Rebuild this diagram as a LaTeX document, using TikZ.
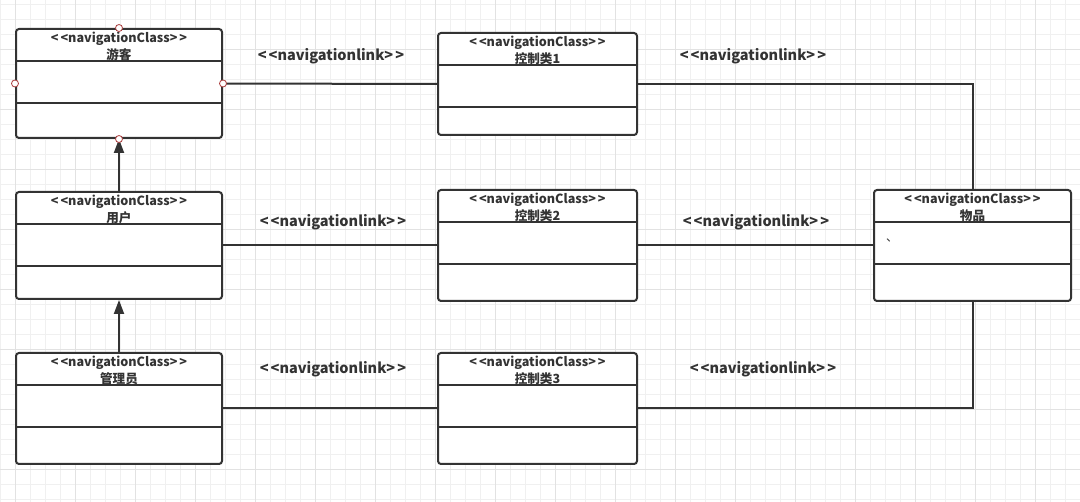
\documentclass[tikz,border=0pt]{standalone}
\usepackage{fontspec}
\setmainfont{Noto Sans CJK SC}[Ligatures=ResetAll]
\usetikzlibrary{arrows.meta, positioning}
\definecolor{umlgray}{RGB}{51, 51, 51}
\definecolor{gridminor}{RGB}{240, 240, 240}
\definecolor{gridmajor}{RGB}{226, 226, 226}
\definecolor{handlered}{RGB}{170, 60, 60}
\newcommand{\stereo}[1]{<\kern2pt<#1>\kern2pt>}

\begin{document}
\begin{tikzpicture}[x=1pt, y=-1pt,
  cls/.style={draw=umlgray, line width=2pt, rounded corners=3pt, fill=white, minimum width=206pt, minimum height=109pt, inner sep=0pt},
  ctrl/.style={cls, minimum width=199pt, minimum height=111pt},
  title/.style={align=center, font=\bfseries\fontsize{12.6}{16.5}\selectfont, text=umlgray, inner sep=1pt},
  linklabel/.style={font=\bfseries\fontsize{14.5}{16}\selectfont, text=umlgray, inner sep=1pt},
  divider/.style={draw=umlgray, line width=2pt},
  link/.style={draw=umlgray, line width=2pt},
  handle/.style={draw=handlered, fill=white, line width=0.8pt}
]
  % background grid
  \useasboundingbox (0,0) rectangle (1080,502);
  \fill[white] (0,0) rectangle (1080,502);
  \foreach \x in {0,15,...,1080} \draw[gridminor, line width=1pt] (\x,0) -- (\x,502);
  \foreach \y in {5,20,...,500} \draw[gridminor, line width=1pt] (0,\y) -- (1080,\y);
  \foreach \x in {15,75,...,1035} \draw[gridmajor, line width=1pt] (\x,0) -- (\x,502);
  \foreach \y in {50,110,...,470} \draw[gridmajor, line width=1pt] (0,\y) -- (1080,\y);

  % classes
  \node[cls] (guest) at (119, 83.5) {};
  \node[cls, minimum height=107pt] (user) at (119, 245.5) {};
  \node[cls, minimum height=111pt] (admin) at (119, 408.5) {};
  \node[ctrl, minimum height=102pt] (ctrlA) at (537.5, 84) {};
  \node[ctrl] (ctrlB) at (537.5, 245.5) {};
  \node[ctrl] (ctrlC) at (537.5, 408.5) {};
  \node[ctrl, minimum width=197pt] (item) at (972.5, 245.5) {};

  \foreach \c in {guest, user, admin, ctrlA, ctrlB, ctrlC, item} {
    \draw[divider] ([yshift=-33pt]\c.north west) -- ([yshift=-33pt]\c.north east);
    \draw[divider] ([yshift=-75pt]\c.north west) -- ([yshift=-75pt]\c.north east);
  }

  \node[title, below=3pt of guest.north] (guestname) {\stereo{navigationClass}\\游客};
  \node[title, below=3pt of user.north] (username) {\stereo{navigationClass}\\用户};
  \node[title, below=3pt of admin.north] (adminname) {\stereo{navigationClass}\\管理员};
  \node[title, below=3pt of ctrlA.north] (ctrlAname) {\stereo{navigationClass}\\控制类1};
  \node[title, below=3pt of ctrlB.north] (ctrlBname) {\stereo{navigationClass}\\控制类2};
  \node[title, below=3pt of ctrlC.north] (ctrlCname) {\stereo{navigationClass}\\控制类3};
  \node[title, below=3pt of item.north] (itemname) {\stereo{navigationClass}\\物品};
  \node[title, font=\fontsize{12}{14}\selectfont] (mark) at (892, 240) {、};

  % links
  \draw[link] (guest.east) -- (ctrlA.west);
  \draw[link] (ctrlA.east) -| (item.north);
  \draw[link] (user.east) -- (ctrlB.west);
  \draw[link] (ctrlB.east) -- (item.west);
  \draw[link] (admin.east) -- (ctrlC.west);
  \draw[link] (ctrlC.east) -| (item.south);

  \node[linklabel] (labA) at (331, 56) {\stereo{navigationlink}};
  \node[linklabel] (labB) at (753, 56) {\stereo{navigationlink}};
  \node[linklabel] (labC) at (333, 222) {\stereo{navigationlink}};
  \node[linklabel] (labD) at (756, 222) {\stereo{navigationlink}};
  \node[linklabel] (labE) at (333, 369) {\stereo{navigationlink}};
  \node[linklabel] (labF) at (763, 369) {\stereo{navigationlink}};

  % generalisation
  \draw[link, -{Triangle[length=14pt, width=10pt]}] (user) -- (guest);
  \draw[link, -{Triangle[length=14pt, width=10pt]}] (admin) -- (user);

  % selection handles
  \foreach \a in {north, south, east, west}
    \draw[handle] (guest.\a) circle (3.5pt);
\end{tikzpicture}
\end{document}
